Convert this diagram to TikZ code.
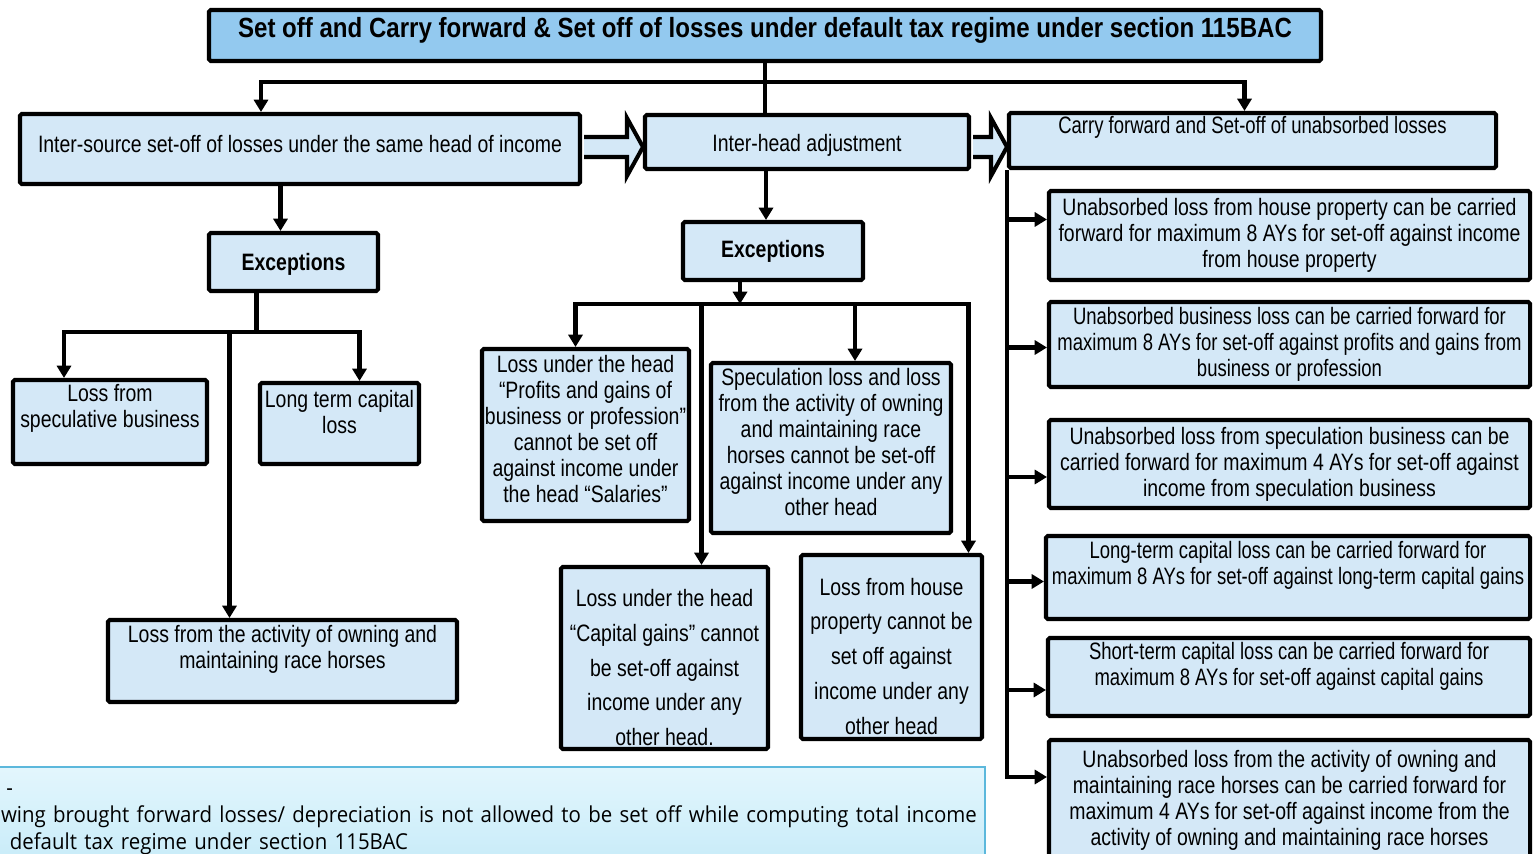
\documentclass[tikz,border=0pt]{standalone}
\usepackage{fontspec}
\setmainfont{Liberation Sans}[FakeStretch=0.82]
\newfontfamily\slimfont{Liberation Sans}[FakeStretch=0.78]
\newfontfamily\titlefont{Liberation Sans}[FakeStretch=0.867]
\newfontfamily\notefont{Open Sans}[FakeStretch=0.93]
\usetikzlibrary{arrows.meta,calc}
\definecolor{boxblue}{HTML}{D4E8F7}
\definecolor{headblue}{HTML}{93C9EF}
\definecolor{noteline}{HTML}{5CB8DC}
\definecolor{notetop}{HTML}{E3F6FD}
\definecolor{notebot}{HTML}{C4EAF8}
\tikzset{
  box/.style={draw,line width=2.3pt,fill=boxblue,rounded corners=1pt,align=center,inner sep=0pt,
    font=\fontsize{13.5}{14.8}\selectfont},
  headbox/.style={box,fill=headblue,font=\titlefont\fontsize{15.8}{18}\selectfont\bfseries},
  exbox/.style={font=\fontsize{13.5}{14.8}\selectfont\bfseries},
  slimbox/.style={font=\slimfont\fontsize{13.5}{14.8}\selectfont},
  tallbox/.style={font=\fontsize{13.5}{19.8}\selectfont},
  link/.style={line width=2.4pt},
  arr/.style={line width=2.4pt,-{Triangle[length=7pt,width=8pt]}},
  fat/.style={draw,fill=boxblue,line width=2.3pt,line join=miter},
  notebox/.style={draw=noteline,line width=1.2pt,top color=notetop,bottom color=notebot,
    align=left,inner xsep=0.1cm,font=\notefont\fontsize{12.5}{15.3}\selectfont},
}
% box from its corners (x1,y1) and (x2,y2) in pixels
\newcommand\panel[7][]{\node(#2)[box,minimum width={(#5-#3-4)*0.02cm},minimum height={(#6-#4-4)*0.02cm},#1] at ({(#3+#5)/2},{(#4+#6)/2}) {#7};}
\newcommand\fatarrow[3]{%
  \path (#1.east |- 0,#3) coordinate (fs) (#2.west |- 0,#3) coordinate (ft);
  \draw[fat] ($(fs)+(2,10)$) -- ($(ft)+(-16,10)$) -- ($(ft)+(-16,29)$) -- (ft)
    -- ($(ft)+(-16,-29)$) -- ($(ft)+(-16,-10)$) -- ($(fs)+(2,-10)$);}

\begin{document}
\begin{tikzpicture}[x=0.02cm,y=-0.02cm]
  \useasboundingbox (0,0) rectangle (1534,854);
  \clip (0,0) rectangle (1534,854);

  \panel[headbox,text depth=9.5pt]{title}{207}{8}{1323}{63}{Set off and Carry forward \& Set off of losses under default tax regime under section 115BAC}
  \panel[text depth=5.7pt]{A}{18}{112}{582}{186}{Inter-source set-off of losses under the same head of income}
  \panel[text height=14pt]{inter}{643}{113}{971}{171}{Inter-head adjustment}
  \panel[slimbox,text depth=18pt]{C}{1007}{111}{1498}{170}{Carry forward and Set-off of unabsorbed losses}

  % set-off within the same head
  \panel[exbox,text height=13pt]{ex1}{207}{231}{380}{293}{Exceptions}
  \panel[text depth=18.7pt]{spec}{11}{378}{209}{466}{Loss from\\speculative business}
  \panel[text depth=13pt]{ltcl}{258}{381}{421}{466}{Long term capital\\loss}
  \panel[text depth=16.4pt]{race}{106}{618}{459}{704}{Loss from the activity of owning and\\maintaining race horses}

  % inter-head
  \panel[exbox]{ex2}{681}{220}{865}{282}{Exceptions}
  \panel[text depth=6.8pt]{pgb}{480}{347}{691}{523}{Loss under the head\\“Profits and gains of\\business or profession”\\cannot be set off\\against income under\\the head “Salaries”}
  \panel[text depth=6.8pt]{spec2}{709}{361}{953}{535}{Speculation loss and loss\\from the activity of owning\\and maintaining race\\horses cannot be set-off\\against income under any\\other head}
  \panel[tallbox,text height=100pt]{cg}{559}{565}{770}{751}{Loss under the head\\“Capital gains” cannot\\be set-off against\\income under any\\other head.}
  \panel[tallbox,text height=99.5pt]{hp}{799}{553}{984}{741}{Loss from house\\property cannot be\\set off against\\income under any\\other head}

  % carry forward
  \panel{r1}{1047}{189}{1532}{282}{Unabsorbed loss from house property can be carried\\forward for maximum 8 AYs for set-off against income\\from house property}
  \panel[slimbox]{r2}{1047}{300}{1532}{389}{Unabsorbed business loss can be carried forward for\\maximum 8 AYs for set-off against profits and gains from\\business or profession}
  \panel{r3}{1047}{418}{1532}{510}{Unabsorbed loss from speculation business can be\\carried forward for maximum 4 AYs for set-off against\\income from speculation business}
  \panel[slimbox,text depth=17pt]{r4}{1044}{534}{1532}{621}{Long-term capital loss can be carried forward for\\maximum 8 AYs for set-off against long-term capital gains}
  \panel[slimbox,text depth=15.3pt]{r5}{1046}{636}{1532}{718}{Short-term capital loss can be carried forward for\\maximum 8 AYs for set-off against capital gains}
  \panel{r6}{1047}{738}{1532}{862}{Unabsorbed loss from the activity of owning and\\maintaining race horses can be carried forward for\\maximum 4 AYs for set-off against income from the\\activity of owning and maintaining race horses}

  \node(note)[notebox,anchor=west,text width=19.58cm,minimum height=2.2cm] at (-5,822)
    {\hspace*{3pt}-\\\mbox{wing brought forward losses/ depreciation is not allowed to be set off while computing total income}\\\hspace*{5pt}default tax regime under section 115BAC};

  \fatarrow{A}{inter}{147}
  \fatarrow{inter}{C}{147}

  \draw[link] (title.south) -- (title.south |- inter.north);
  \coordinate (split) at ($(title.south)+(0,19)$);
  \draw[arr] (split) -| ($(A.north)+(-39,0)$);
  \draw[arr] (split) -| ($(C.north)+(-8,0)$);

  \coordinate (e1) at ($(ex1.north)+(-13,0)$);
  \draw[arr] (e1 |- A.south) -- (e1);
  \coordinate (j1) at ($(ex1.south)+(-37,39)$);
  \draw[link] (j1 |- ex1.south) -- (j1);
  \draw[arr] (j1) -| ($(spec.north)+(-46,0)$);
  \draw[arr] (j1) -| ($(ltcl.north)+(20,0)$);
  \coordinate (e2) at ($(race.north)+(-53,0)$);
  \draw[arr] (e2 |- j1) -- (e2);

  \coordinate (e3) at ($(ex2.north)+(-7,0)$);
  \draw[arr] (e3 |- inter.south) -- (e3);
  \coordinate (j2) at ($(ex2.south)+(-33,22)$);
  \draw[arr] (j2 |- ex2.south) -- (j2);
  \draw[arr] (j2) -| ($(pgb.north)+(-10,0)$);
  \draw[arr] (j2) -| ($(hp.north)+(77,0)$);
  \coordinate (e4) at ($(spec2.north)+(24,0)$);
  \draw[arr] (e4 |- j2) -- (e4);
  \coordinate (e5) at ($(cg.north)+(37,0)$);
  \draw[arr] (e5 |- j2) -- (e5);

  \draw[arr] (C.south west) |- ($(r6.west)+(0,-23)$);
  \foreach \r/\dy in {r1/-16,r2/3,r3/13,r4/4,r5/13}{
    \coordinate (p) at ($(\r.west)+(0,\dy)$);
    \draw[arr] (C.south west |- p) -- (p);
  }
\end{tikzpicture}
\end{document}
